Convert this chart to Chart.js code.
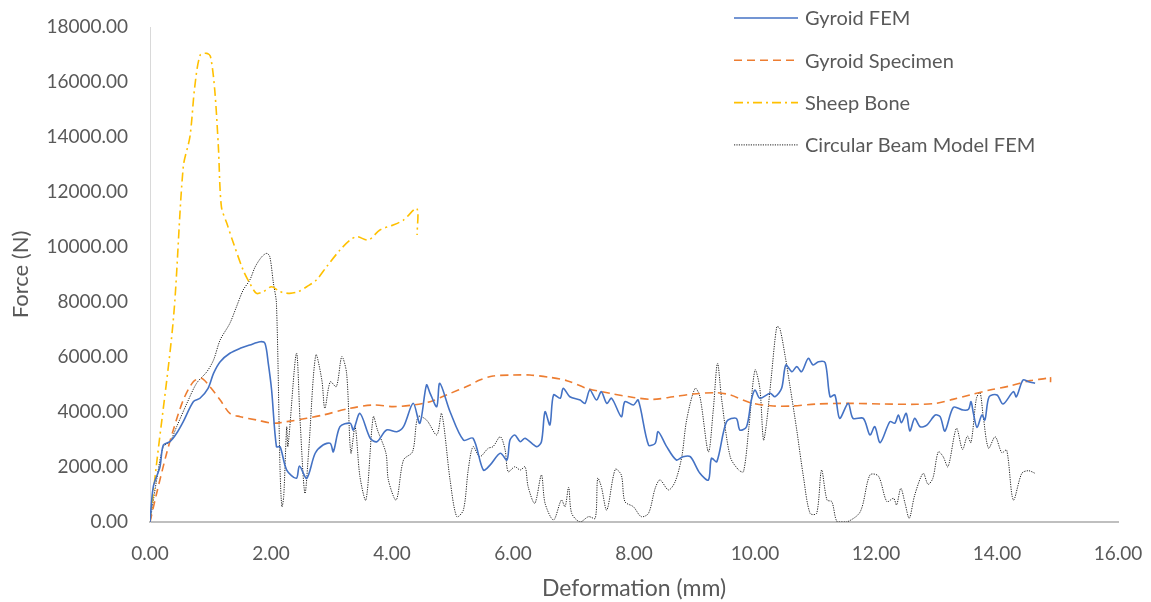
<!DOCTYPE html>
<html>
<head>
<meta charset="utf-8">
<script src="https://cdn.jsdelivr.net/npm/chart.js@4/dist/chart.umd.min.js"></script>
<style>
  html, body { margin: 0; padding: 0; background: #fff; }
  #wrap { width: 1151px; height: 602px; }
</style>
</head>
<body>
<div id="wrap"><canvas id="c" width="1151" height="602"></canvas></div>
<script>
// ---------- DATA ----------
const seriesNames = ['Gyroid FEM', 'Gyroid Specimen', 'Sheep Bone', 'Circular Beam Model FEM'];
const xTickLabels = ['0.00','2.00','4.00','6.00','8.00','10.00','12.00','14.00','16.00'];
const yTickLabels = ['0.00','2000.00','4000.00','6000.00','8000.00','10000.00','12000.00','14000.00','16000.00','18000.00'];

const gyroidFemX = [0,0.055,0.165,0.22,0.33,0.44,0.55,0.716,0.826,0.96,1.05,1.16,1.32,1.49,1.65,1.82,1.9,1.955,2.01,2.09,2.15,2.26,2.42,2.47,2.59,2.73,2.86,2.98,3.03,3.14,3.31,3.36,3.47,3.64,3.75,3.91,4.08,4.19,4.35,4.46,4.57,4.63,4.74,4.79,4.96,5.18,5.34,5.51,5.62,5.79,5.9,5.95,6.03,6.12,6.2,6.39,6.47,6.53,6.61,6.67,6.78,6.83,6.94,7.11,7.19,7.27,7.38,7.46,7.55,7.63,7.79,7.85,7.99,8.07,8.24,8.35,8.4,8.54,8.7,8.81,8.93,9.09,9.23,9.28,9.37,9.53,9.69,9.75,9.86,9.94,10.0,10.08,10.25,10.33,10.44,10.51,10.61,10.69,10.77,10.88,10.96,11.05,11.16,11.24,11.32,11.4,11.54,11.62,11.79,11.9,11.98,12.07,12.23,12.31,12.37,12.42,12.5,12.56,12.64,12.73,12.84,12.98,13.06,13.14,13.28,13.44,13.53,13.57,13.61,13.67,13.75,13.8,13.87,14.0,14.1,14.27,14.32,14.43,14.52,14.63];
const gyroidFemY = [0,1285,2010,2800,2920,3225,3650,4375,4500,4860,5405,5830,6135,6315,6435,6555,6500,5770,4800,2740,2740,1890,1590,2035,1590,2500,2800,2860,2555,3465,3590,3345,3950,3045,2920,3345,3285,3465,4315,3590,4980,4680,4195,5045,4010,2980,3045,1890,2070,2500,2255,2980,3165,2920,3045,2740,2920,4010,3530,4620,4500,4860,4555,4435,4315,4800,4435,4740,4315,4500,3830,4375,4255,4435,2800,2860,3285,2740,2255,2375,2375,1770,1525,2315,2195,3650,3770,3345,3465,4435,4800,4500,4680,4555,4860,5710,5465,5650,5465,5950,5710,5830,5795,4555,4620,3770,4315,3770,3770,3165,3465,2885,3650,3590,3890,3610,3950,3310,3770,3465,3525,3890,3830,3310,4170,4070,4100,4375,3950,3440,3890,3710,4555,4620,4290,4740,4555,5165,5100,5045];

const gyroidSpecX = [0,0.11,0.275,0.385,0.55,0.716,0.85,0.99,1.16,1.32,1.49,1.76,2.04,2.26,2.59,2.86,3.31,3.69,4.02,4.35,4.63,4.9,5.29,5.45,5.67,6.0,6.28,6.61,6.89,7.22,7.6,7.99,8.32,8.65,8.98,9.37,9.59,9.92,10.3,10.63,11.02,11.57,12.12,12.67,13.0,13.27,13.55,13.88,14.21,14.55,14.82,14.88,14.885];
const gyroidSpecY = [0,1045,2500,3345,4435,5100,5225,4920,4435,3950,3830,3710,3590,3650,3770,3890,4135,4255,4195,4255,4375,4620,4980,5165,5310,5345,5345,5260,5140,4860,4680,4530,4460,4555,4655,4700,4620,4340,4220,4220,4290,4315,4290,4280,4315,4460,4620,4800,4945,5140,5225,5280,5080];

const sheepBoneX = [0,0.11,0.385,0.55,0.66,0.74,0.83,0.94,1.0,1.07,1.13,1.18,1.27,1.38,1.54,1.65,1.76,1.87,2.01,2.15,2.31,2.45,2.59,2.75,2.92,3.14,3.31,3.42,3.61,3.8,4.02,4.19,4.41,4.415];
const sheepBoneY = [0,2145,7345,12920,14010,15830,16980,17040,16920,15710,13650,11465,10860,10135,9160,8680,8315,8375,8555,8375,8315,8375,8555,8800,9285,9890,10255,10375,10255,10620,10800,10980,11400,10435];

const beamX = [0,0.11,0.22,0.33,0.44,0.61,0.77,0.94,1.05,1.16,1.32,1.43,1.54,1.65,1.74,1.85,1.93,1.98,2.04,2.09,2.15,2.18,2.21,2.26,2.28,2.42,2.48,2.56,2.62,2.74,2.84,2.89,2.98,3.08,3.17,3.25,3.32,3.39,3.47,3.57,3.69,3.76,3.9,3.94,4.07,4.19,4.34,4.43,4.57,4.74,4.82,4.96,5.07,5.18,5.26,5.34,5.45,5.59,5.67,5.79,5.87,5.92,6.03,6.12,6.2,6.25,6.36,6.47,6.53,6.67,6.8,6.86,6.92,6.97,7.11,7.25,7.36,7.4,7.46,7.55,7.69,7.79,7.85,7.99,8.12,8.24,8.35,8.43,8.57,8.68,8.79,8.87,9.01,9.09,9.23,9.31,9.38,9.45,9.59,9.73,9.81,9.9,10.0,10.08,10.14,10.19,10.27,10.36,10.41,10.5,10.58,10.69,10.8,10.91,11.02,11.1,11.19,11.27,11.36,11.52,11.74,11.9,12.04,12.18,12.29,12.34,12.41,12.48,12.55,12.64,12.78,12.86,12.94,13.03,13.11,13.19,13.33,13.43,13.51,13.57,13.66,13.72,13.77,13.86,13.97,14.08,14.16,14.27,14.41,14.52,14.63];
const beamY = [0,1530,2740,2920,3465,4315,5045,5465,5890,6620,7225,7830,8435,8800,9285,9650,9770,9650,8680,7950,1890,555,920,3465,2740,6135,3710,1045,2500,6070,5165,4135,5100,4920,6010,5405,2500,3465,1650,800,3830,3345,2500,1530,800,2255,2555,3830,3710,3165,3950,1530,195,435,1890,2740,2375,2680,2740,3100,2620,1830,2010,1890,2010,1285,680,1710,680,75,800,555,1260,315,0,195,135,1590,1285,435,1915,1710,740,555,195,315,1225,1530,1165,1465,2375,3710,4860,4555,2555,4070,5770,4435,2375,1890,1830,3465,5525,4860,2980,3590,5285,7100,7040,6010,4920,3345,1650,315,315,1890,800,740,0,0,375,1710,1670,740,860,620,1225,680,135,980,1770,1370,1590,2555,2375,2010,3405,2640,3125,2885,4500,4700,3890,2680,3100,2520,2620,800,1770,1865,1770];

// ---------- BUILD ----------
const zip = (xs, ys) => xs.map((x, i) => ({ x: x, y: ys[i] }));
const FONT = 'Lato, "Open Sans", sans-serif';
const TEXT = '#595959';

const legendPlugin = {
  id: 'insideLegend',
  afterDraw(chart) {
    const ctx = chart.ctx;
    chart.data.datasets.forEach((ds, i) => {
      const y = 18 + i * 42.3;
      ctx.save();
      ctx.strokeStyle = ds.borderColor;
      ctx.lineWidth = ds.borderWidth;
      ctx.setLineDash(ds.borderDash || []);
      ctx.beginPath();
      ctx.moveTo(734, y);
      ctx.lineTo(798, y);
      ctx.stroke();
      ctx.setLineDash([]);
      ctx.fillStyle = TEXT;
      ctx.font = '20px ' + FONT;
      ctx.textBaseline = 'middle';
      ctx.textAlign = 'left';
      ctx.fillText(ds.label, 805, y + 1);
      ctx.restore();
    });
  }
};

new Chart(document.getElementById('c'), {
  type: 'line',
  data: {
    datasets: [
      { label: seriesNames[0], data: zip(gyroidFemX, gyroidFemY), borderColor: '#4472C4', borderWidth: 1.6, borderDash: [], tension: 0.3 },
      { label: seriesNames[1], data: zip(gyroidSpecX, gyroidSpecY), borderColor: '#ED7D31', borderWidth: 1.6, borderDash: [8, 5], tension: 0.3 },
      { label: seriesNames[2], data: zip(sheepBoneX, sheepBoneY), borderColor: '#FFC000', borderWidth: 1.6, borderDash: [9, 4, 2, 4], tension: 0.3 },
      { label: seriesNames[3], data: zip(beamX, beamY), borderColor: '#222222', borderWidth: 1, borderDash: [1.2, 1.2], tension: 0.3 }
    ]
  },
  options: {
    responsive: false,
    animation: false,
    events: [],
    elements: { point: { radius: 0 } },
    layout: { padding: { left: 0, right: 33, top: 27, bottom: 0 } },
    plugins: { legend: { display: false }, tooltip: { enabled: false } },
    scales: {
      x: {
        type: 'linear', min: 0, max: 16,
        afterFit: s => { s.height = 80; s.paddingLeft = 0; s.paddingRight = 0; },
        afterBuildTicks: s => { s.ticks = xTickLabels.map(t => ({ value: parseFloat(t) })); },
        grid: { display: false, drawTicks: false },
        border: { display: true, color: '#BFBFBF', width: 2 },
        ticks: { padding: 20, color: TEXT, font: { family: FONT, size: 19 }, maxRotation: 0,
                 callback: (v, i) => xTickLabels[i] },
        title: { display: true, text: 'Deformation (mm)', color: TEXT, font: { family: FONT, size: 23 }, padding: 0 }
      },
      y: {
        type: 'linear', min: 0, max: 18000,
        afterFit: s => { s.width = 150; s.paddingTop = 0; s.paddingBottom = 0; },
        afterBuildTicks: s => { s.ticks = yTickLabels.map(t => ({ value: parseFloat(t) })); },
        grid: { display: false, drawTicks: false },
        border: { display: true, color: '#D9D9D9', width: 1 },
        ticks: { padding: 22, color: TEXT, font: { family: FONT, size: 19 },
                 callback: (v, i) => yTickLabels[i] },
        title: { display: true, text: 'Force (N)', color: TEXT, font: { family: FONT, size: 22 }, padding: { top: 8, bottom: 0 } }
      }
    }
  },
  plugins: [legendPlugin]
});
</script>
</body>
</html>
